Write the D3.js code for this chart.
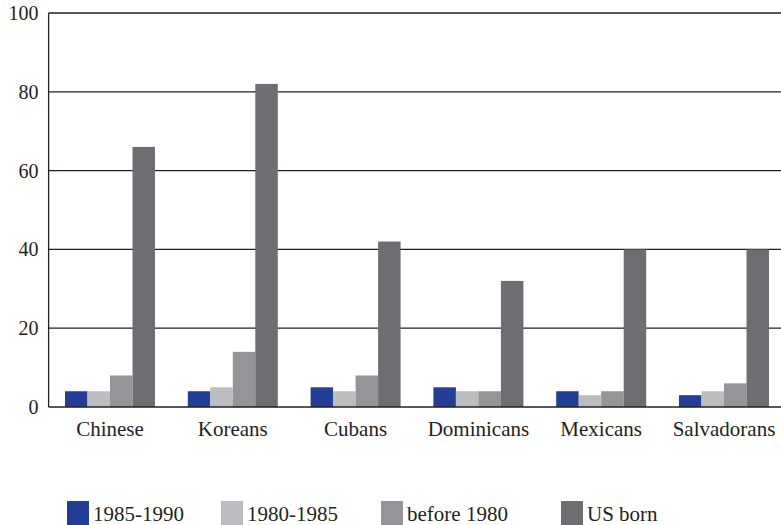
<!DOCTYPE html>
<html>
<head>
<meta charset="utf-8">
<script src="https://cdn.jsdelivr.net/npm/d3@7"></script>
<style>
  html, body { margin: 0; padding: 0; background: #fff; }
  svg { display: block; }
</style>
</head>
<body>
<svg id="chart" width="781" height="525"></svg>
<script>
// ── Datos ──
const categories = ["Chinese", "Koreans", "Cubans", "Dominicans", "Mexicans", "Salvadorans"];
const seriesNames = ["1985-1990", "1980-1985", "before 1980", "US born"];
const s1985_1990 = [4, 4, 5, 5, 4, 3];
const s1980_1985 = [4, 5, 4, 4, 3, 4];
const sBefore1980 = [8, 14, 8, 4, 4, 6];
const sUSBorn = [66, 82, 42, 32, 40, 40];
const yTicks = [0, 20, 40, 60, 80, 100];

const seriesValues = [s1985_1990, s1980_1985, sBefore1980, sUSBorn];
const colors = ["#233e96", "#bcbdc0", "#939598", "#6d6e71"];
const FONT = "'Liberation Serif', 'DejaVu Serif', 'Noto Serif', serif";

const svg = d3.select("#chart");

const plotL = 48.6, plotR = 785.4, plotT = 13, plotB = 407;

const x = d3.scaleBand().domain(categories).range([plotL, plotR])
  .paddingInner(0.267).paddingOuter(0.1335);
const xs = d3.scaleBand().domain(seriesNames).range([0, x.bandwidth()]);
const y = d3.scaleLinear().domain([0, 100]).range([plotB, plotT]);

// ── Líneas de cuadrícula ──
svg.append("g").selectAll("line")
  .data(yTicks.filter(t => t > 0)).join("line")
  .attr("x1", plotL).attr("x2", 781)
  .attr("y1", d => y(d)).attr("y2", d => y(d))
  .attr("stroke", "#231f20").attr("stroke-width", 1.3);

// ── Barras ──
const rows = [];
categories.forEach((c, i) => {
  seriesNames.forEach((s, j) => rows.push({ cat: c, series: s, value: seriesValues[j][i], k: j }));
});

svg.append("g").selectAll("rect")
  .data(rows).join("rect")
  .attr("x", d => x(d.cat) + xs(d.series))
  .attr("width", xs.bandwidth())
  .attr("y", d => y(d.value))
  .attr("height", d => y(0) - y(d.value))
  .attr("fill", d => colors[d.k]);

// ── Ejes ──
svg.append("line")
  .attr("x1", plotL).attr("x2", plotL).attr("y1", plotT).attr("y2", plotB)
  .attr("stroke", "#231f20").attr("stroke-width", 1.3);
svg.append("line")
  .attr("x1", plotL).attr("x2", 781).attr("y1", plotB).attr("y2", plotB)
  .attr("stroke", "#231f20").attr("stroke-width", 1.6);

const yAxis = d3.axisLeft(y).tickValues(yTicks).tickSize(0).tickPadding(10);
const gy = svg.append("g").attr("transform", `translate(${plotL},0)`).call(yAxis);
gy.select(".domain").remove();
gy.attr("font-family", null).attr("font-size", null);
gy.selectAll("text")
  .style("font-family", FONT)
  .style("font-size", "20px").attr("fill", "#231f20");

const xAxis = d3.axisBottom(x).tickSize(0).tickPadding(14);
const gx = svg.append("g").attr("transform", `translate(0,${plotB})`).call(xAxis);
gx.select(".domain").remove();
gx.attr("font-family", null).attr("font-size", null);
gx.selectAll("text")
  .style("font-family", FONT)
  .style("font-size", "21px").attr("fill", "#231f20");

// ── Leyenda ──
const legendX = [67, 221, 381, 561];
const legend = svg.append("g").selectAll("g")
  .data(seriesNames).join("g")
  .attr("transform", (d, i) => `translate(${legendX[i]},501)`);
legend.append("rect")
  .attr("width", 22).attr("height", 24)
  .attr("fill", (d, i) => colors[i]);
legend.append("text")
  .attr("x", 26).attr("y", 20)
  .style("font-family", FONT)
  .style("font-size", "21px")
  .attr("fill", "#231f20")
  .text(d => d);
</script>
</body>
</html>
